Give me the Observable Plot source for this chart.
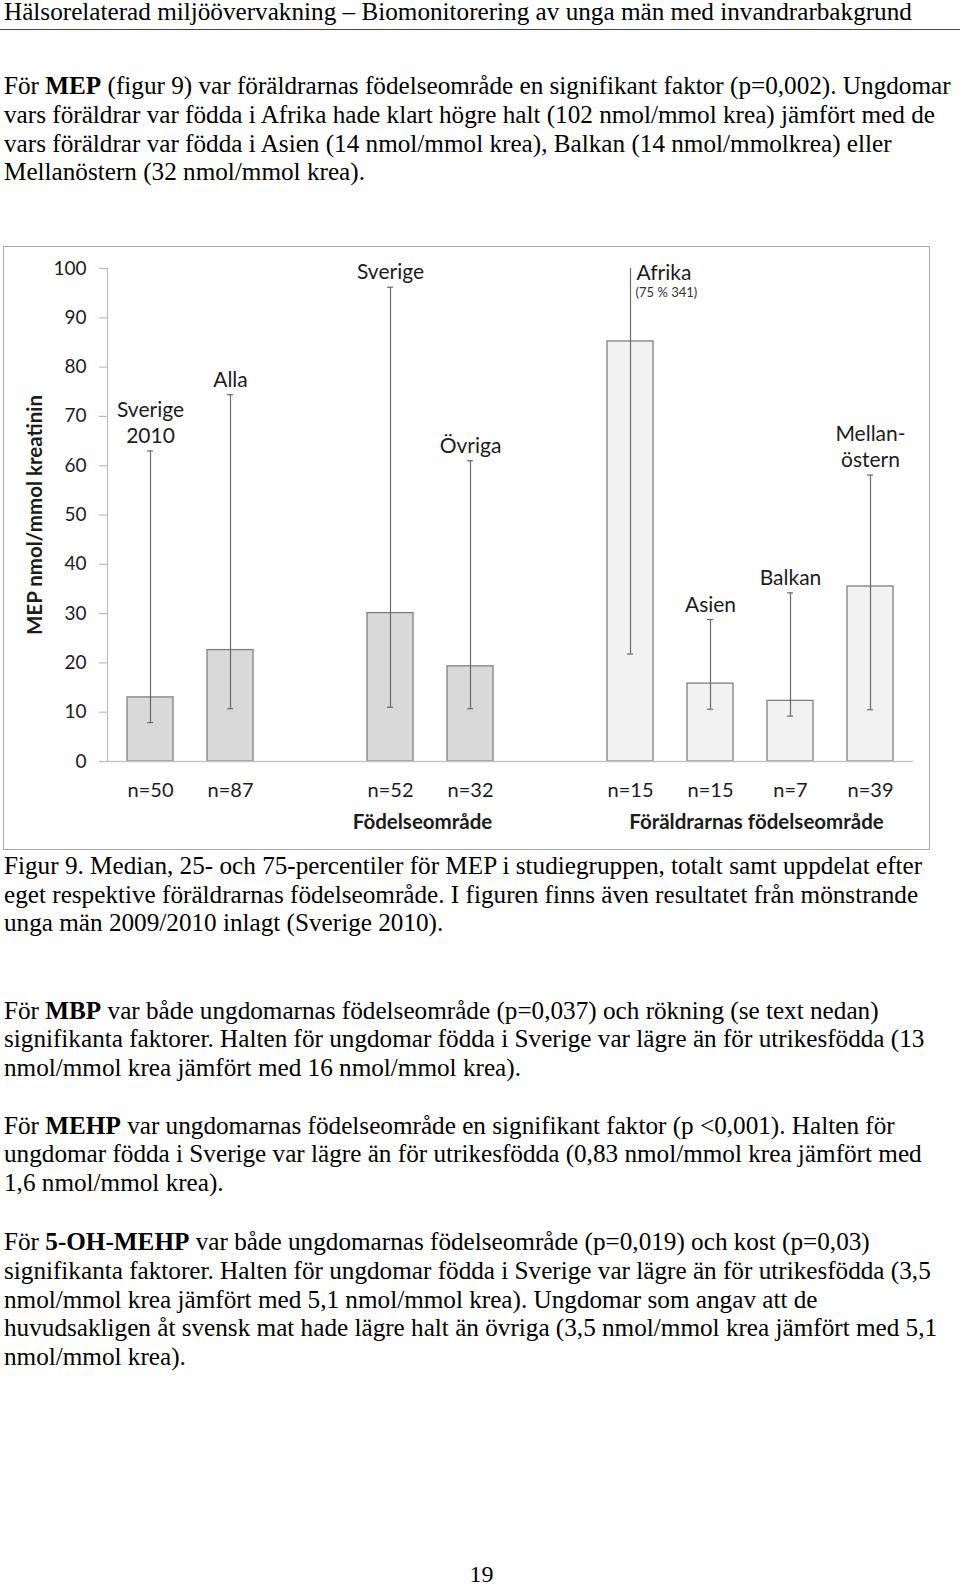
<!DOCTYPE html>
<html><head><meta charset="utf-8">
<script src="https://cdn.jsdelivr.net/npm/d3@7"></script>
<script src="https://cdn.jsdelivr.net/npm/@observablehq/plot@0.6"></script>
<style>
html,body{margin:0;padding:0;background:#fff}
body{position:relative;width:960px;height:1585px;overflow:hidden;font-family:"Liberation Serif","Times New Roman",serif;font-size:25.2px;color:#000}
.t{position:absolute;left:4px;white-space:nowrap;line-height:28.8px}
.rule{position:absolute;left:0;top:28.5px;width:960px;height:1.5px;background:#444}
#chart{position:absolute;left:3px;top:246px;border:1px solid #a9a9a9;line-height:0}
#pg{position:absolute;left:0;width:963px;text-align:center;top:1560px;font-size:24px;line-height:28.8px}
</style></head>
<body>
<div class="t" style="top:-2px;line-height:28.8px">Hälsorelaterad miljöövervakning – Biomonitorering av unga män med invandrarbakgrund</div>
<div class="rule"></div>
<div class="t" style="top:72.4px;line-height:28.6px">För <b>MEP</b> (figur 9) var föräldrarnas födelseområde en signifikant faktor (p=0,002). Ungdomar<br>vars föräldrar var födda i Afrika hade klart högre halt (102 nmol/mmol krea) jämfört med de<br>vars föräldrar var födda i Asien (14 nmol/mmol krea), Balkan (14 nmol/mmolkrea) eller<br>Mellanöstern (32 nmol/mmol krea).</div>
<div id="chart"></div>
<div class="t" style="top:851.8px">Figur 9. Median, 25- och 75-percentiler för MEP i studiegruppen, totalt samt uppdelat efter<br>eget respektive föräldrarnas födelseområde. I figuren finns även resultatet från mönstrande<br>unga män 2009/2010 inlagt (Sverige 2010).</div>
<div class="t" style="top:996.5px">För <b>MBP</b> var både ungdomarnas födelseområde (p=0,037) och rökning (se text nedan)<br>signifikanta faktorer. Halten för ungdomar födda i Sverige var lägre än för utrikesfödda (13<br>nmol/mmol krea jämfört med 16 nmol/mmol krea).</div>
<div class="t" style="top:1111.7px">För <b>MEHP</b> var ungdomarnas födelseområde en signifikant faktor (p &lt;0,001). Halten för<br>ungdomar födda i Sverige var lägre än för utrikesfödda (0,83 nmol/mmol krea jämfört med<br>1,6 nmol/mmol krea).</div>
<div class="t" style="top:1228px">För <b>5-OH-MEHP</b> var både ungdomarnas födelseområde (p=0,019) och kost (p=0,03)<br>signifikanta faktorer. Halten för ungdomar födda i Sverige var lägre än för utrikesfödda (3,5<br>nmol/mmol krea jämfört med 5,1 nmol/mmol krea). Ungdomar som angav att de<br>huvudsakligen åt svensk mat hade lägre halt än övriga (3,5 nmol/mmol krea jämfört med 5,1<br>nmol/mmol krea).</div>
<div id="pg">19</div>
<script>
// ---- data ----
const groups      = ["Sverige 2010", "Alla", "Sverige", "Övriga", "Afrika", "Asien", "Balkan", "Mellanöstern"];
const groupLabels = ["Sverige\n2010", "Alla", "Sverige", "Övriga", "Afrika", "Asien", "Balkan", "Mellan-\nöstern"];
const basis       = ["eget", "eget", "eget", "eget", "föräldrarnas", "föräldrarnas", "föräldrarnas", "föräldrarnas"];
const nValues     = [50, 87, 52, 32, 15, 15, 7, 39];
const medians     = [13.0, 22.6, 30.1, 19.3, 85.2, 15.8, 12.3, 35.5];
const p25         = [7.9, 10.7, 11.0, 10.7, 21.8, 10.6, 9.2, 10.5];
const p75         = [63.0, 74.4, 96.2, 61.0, 341, 28.8, 34.2, 58.1];
const xSlots      = ["Sverige 2010", "Alla", "gap1", "Sverige", "Övriga", "gap2", "Afrika", "Asien", "Balkan", "Mellanöstern"];
const yTicks      = [0, 10, 20, 30, 40, 50, 60, 70, 80, 90, 100];
const sectionLabels = ["Födelseområde", "Föräldrarnas födelseområde"];
const sectionAnchor = ["Sverige", "Asien"];
const yTitle = "MEP nmol/mmol kreatinin";

const yMax = yTicks[yTicks.length - 1];
const data = groups.map((g, i) => ({group: g, label: groupLabels[i], basis: basis[i], n: nValues[i], median: medians[i], p25: p25[i], p75: p75[i]}));
const inRange = data.filter(d => d.p75 <= yMax);
const offRange = data.filter(d => d.p75 > yMax);
const nByGroup = new Map(data.map(d => [d.group, "n=" + d.n]));
const sections = sectionLabels.map((s, i) => ({label: s, anchor: sectionAnchor[i]}));

const txt = "#1c1c1c";
const whisk = "#6a6a6a";

const chart = Plot.plot({
  width: 925,
  height: 602,
  marginLeft: 103,
  marginRight: 16,
  marginTop: 21,
  marginBottom: 88,
  style: {fontFamily: "Lato, 'Open Sans', sans-serif", fontSize: "19px", color: txt, background: "#fff"},
  x: {type: "band", domain: xSlots, paddingInner: 0.43, paddingOuter: 0.215, axis: null},
  y: {domain: [0, yMax], axis: null},
  color: {domain: ["eget", "föräldrarnas"], range: ["#d9d9d9", "#f2f2f2"]},
  marks: [
    Plot.frame({anchor: "left", stroke: "#bdbdbd", strokeWidth: 1.2}),
    Plot.axisY({ticks: yTicks, tickSize: 8, tickPadding: 13, stroke: "#bdbdbd", strokeWidth: 1.2, fontSize: 19, label: null}),
    Plot.barY(data, {x: "group", y: "median", fill: "basis", stroke: "#808080", strokeWidth: 1.3}),
    Plot.ruleY([0], {stroke: "#c4c4c4", strokeWidth: 1.5}),
    Plot.ruleX(data, {x: "group", y1: "p25", y2: "p75", stroke: whisk, strokeWidth: 1.2, clip: true}),
    Plot.tickY(data, {x: "group", y: "p25", stroke: whisk, strokeWidth: 1.2, insetLeft: 20, insetRight: 20}),
    Plot.tickY(inRange, {x: "group", y: "p75", stroke: whisk, strokeWidth: 1.2, insetLeft: 20, insetRight: 20}),
    Plot.text(inRange, {x: "group", y: "p75", text: "label", lineAnchor: "bottom", dy: -8, fontSize: 21, lineHeight: 1.25, fill: txt}),
    Plot.text(offRange, {x: "group", y: () => yMax, text: "label", textAnchor: "start", lineAnchor: "middle", dx: 6, dy: 5, fontSize: 21, fill: txt}),
    Plot.text(offRange, {x: "group", y: () => yMax, text: d => `(75 % ${d.p75})`, textAnchor: "start", lineAnchor: "middle", dx: 5, dy: 24, fontSize: 13, fill: "#333"}),
    Plot.axisX({domain: xSlots, tickSize: 0, tickPadding: 21, fontSize: 20, tickFormat: k => nByGroup.get(k) ?? "", label: null}),
    Plot.text(sections.slice(0, 1), {x: "anchor", y: () => 0, text: "label", dx: 32, dy: 61, lineAnchor: "middle", fontSize: 20.5, fontWeight: "bold", fill: txt}),
    Plot.text(sections.slice(1), {x: "anchor", y: () => 0, text: "label", dx: 46, dy: 61, lineAnchor: "middle", fontSize: 20.5, fontWeight: "bold", fill: txt}),
    Plot.text([yTitle], {frameAnchor: "left", textAnchor: "middle", rotate: -90, dx: -72, fontSize: 20.5, fontWeight: "bold", fill: txt})
  ]
});
document.getElementById("chart").appendChild(chart);
</script>
</body></html>
